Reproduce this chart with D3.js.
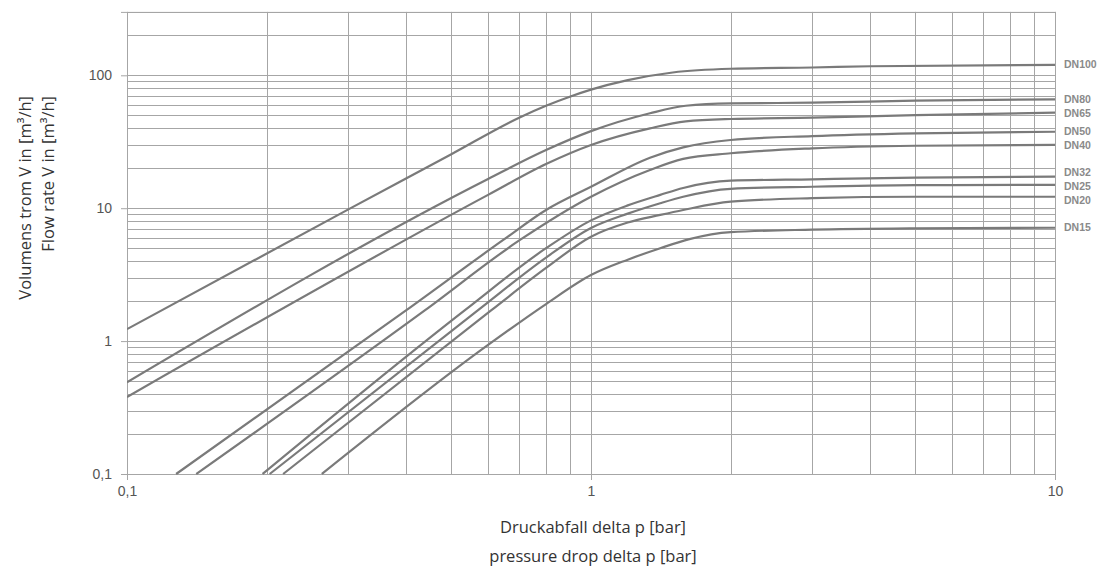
<!DOCTYPE html>
<html>
<head>
<meta charset="utf-8">
<script src="https://cdn.jsdelivr.net/npm/d3@7/dist/d3.min.js"></script>
<style>
  html, body { margin: 0; padding: 0; background: #fff; }
  svg { display: block; }
</style>
</head>
<body>
<svg id="chart" width="1105" height="574"></svg>
<script>
// ---- data (pressure drop [bar], flow rate [m3/h]) ----
const seriesNames = ["DN100", "DN80", "DN65", "DN50", "DN40", "DN32", "DN25", "DN20", "DN15"];
const dn100 = [[0.1,1.23],[0.3,9.8],[0.5,25.5],[0.7,48],[0.8,59],[0.9,69],[1,78],[1.2,92],[1.5,105],[2,112],[3,114.5],[4,117],[10,120]];
const dn80  = [[0.1,0.49],[0.6,16.6],[0.8,27.4],[1,38],[1.34,51.8],[1.6,59],[2,61.5],[3,62.2],[5,64.4],[10,66]];
const dn65  = [[0.1,0.38],[0.6,12.6],[0.8,21.5],[1,29.9],[1.34,39.9],[1.6,45],[2,46.9],[3,48],[5,50.2],[10,52.3]];
const dn50  = [[0.1276,0.1],[0.4,1.71],[0.647,5.77],[0.8,9.7],[1,14.5],[1.34,24],[1.58,28.7],[2,32.6],[3,34.9],[5,36.6],[10,37.6]];
const dn40  = [[0.141,0.1],[0.439,1.71],[0.703,5.77],[1,12.2],[1.34,19.4],[1.58,23.5],[2,25.9],[3,28.2],[5,29.5],[10,30]];
const dn32  = [[0.196,0.1],[0.535,1.71],[0.8,5.0],[1,8.1],[1.2,10.5],[1.41,12.6],[1.58,14.2],[2,16.1],[3,16.5],[5,17],[10,17.3]];
const dn25  = [[0.203,0.1],[0.571,1.71],[0.8,4.25],[1,7.1],[1.2,9.1],[1.41,10.9],[1.58,12.2],[2,14],[3,14.5],[5,14.9],[10,15]];
const dn20  = [[0.217,0.1],[0.61,1.71],[0.8,3.55],[1,6.1],[1.2,7.8],[1.41,8.9],[1.58,9.7],[2,11.2],[3,11.9],[5,12.2],[10,12.2]];
const dn15  = [[0.263,0.1],[0.6,0.935],[0.8,1.9],[1,3.14],[1.2,4.1],[1.41,5.0],[1.63,5.85],[2,6.6],[3,6.9],[5,7.06],[10,7.13]];
const seriesData = [dn100, dn80, dn65, dn50, dn40, dn32, dn25, dn20, dn15];

const xTickValues = [0.1, 1, 10];
const xTickLabels = ["0,1", "1", "10"];
const yTickValues = [0.1, 1, 10, 100];
const yTickLabels = ["0,1", "1", "10", "100"];
const xTitle = ["Druckabfall delta p [bar]", "pressure drop delta p [bar]"];
const yTitle = ["Volumens trom V in [m\u00B3/h]", "Flow rate V in [m\u00B3/h]"];

// ---- layout ----
const svg = d3.select("#chart");
const plot = { left: 127, right: 1055, top: 11.9, bottom: 474 };
const x = d3.scaleLog().domain([0.1, 10]).range([plot.left, plot.right]);
const y = d3.scaleLog().domain([0.1, 300]).range([plot.bottom, plot.top]);

const gridColor = "#a6a6a6";
const curveColor = "#7a7a7a";

// minor/major grid values
const xGrid = [];
[0.1, 1].forEach(d => { for (let k = 1; k <= 9; k++) xGrid.push(+(d * k).toPrecision(3)); });
xGrid.push(10);
const yGrid = [];
[0.1, 1, 10].forEach(d => { for (let k = 1; k <= 9; k++) yGrid.push(+(d * k).toPrecision(3)); });
yGrid.push(100, 200, 300);

const g = svg.append("g");
g.selectAll("line.vg").data(xGrid).join("line")
  .attr("x1", d => Math.round(x(d)) + 0.5).attr("x2", d => Math.round(x(d)) + 0.5)
  .attr("y1", plot.top).attr("y2", plot.bottom)
  .attr("stroke", gridColor).attr("stroke-width", 1);
g.selectAll("line.hg").data(yGrid).join("line")
  .attr("y1", d => Math.round(y(d)) + 0.5).attr("y2", d => Math.round(y(d)) + 0.5)
  .attr("x1", plot.left).attr("x2", plot.right)
  .attr("stroke", gridColor).attr("stroke-width", 1);

// axes (ticks + labels)
const xAxis = d3.axisBottom(x).tickValues(xTickValues).tickSize(6).tickPadding(6)
  .tickFormat((d, i) => xTickLabels[i]);
const xg = svg.append("g").attr("transform", `translate(0,${plot.bottom})`).call(xAxis);
xg.select(".domain").attr("stroke", gridColor);
xg.selectAll(".tick line").attr("stroke", gridColor);
xg.selectAll(".tick text").attr("fill", "#555").attr("font-family", "Liberation Sans, Arial, sans-serif").attr("font-size", 14);

const yAxis = d3.axisLeft(y).tickValues(yTickValues).tickSize(6).tickPadding(9)
  .tickFormat((d, i) => yTickLabels[i]);
const yg = svg.append("g").attr("transform", `translate(${plot.left},0)`).call(yAxis);
yg.select(".domain").attr("stroke", gridColor);
yg.selectAll(".tick line").attr("stroke", gridColor);
yg.selectAll(".tick text").attr("fill", "#555").attr("font-family", "Liberation Sans, Arial, sans-serif").attr("font-size", 14);

// frame
svg.append("rect").attr("x", plot.left + 0.5).attr("y", plot.top + 0.5)
  .attr("width", plot.right - plot.left).attr("height", plot.bottom - plot.top)
  .attr("fill", "none").attr("stroke", gridColor);

// curves
svg.append("clipPath").attr("id", "clip").append("rect")
  .attr("x", plot.left).attr("y", plot.top)
  .attr("width", plot.right - plot.left + 1).attr("height", plot.bottom - plot.top + 1);
const line = d3.line().x(d => x(d[0])).y(d => y(d[1])).curve(d3.curveMonotoneX);
svg.append("g").attr("clip-path", "url(#clip)")
  .selectAll("path").data(seriesData).join("path")
  .attr("d", line).attr("fill", "none")
  .attr("stroke", curveColor).attr("stroke-width", 2.2)
  .attr("stroke-linejoin", "round");

// DN labels with simple de-overlap
const labels = seriesNames.map((n, i) => ({ name: n, y: y(seriesData[i][seriesData[i].length - 1][1]) }));
const minGap = 14;
for (let iter = 0; iter < 50; iter++) {
  for (let i = 1; i < labels.length; i++) {
    const gap = labels[i].y - labels[i - 1].y;
    if (gap < minGap) {
      const shift = (minGap - gap) / 2;
      labels[i - 1].y -= shift;
      labels[i].y += shift;
    }
  }
}
svg.append("g").selectAll("text").data(labels).join("text")
  .attr("x", 1064).attr("y", d => d.y).attr("dy", "0.35em")
  .attr("font-family", "Liberation Sans, Arial, sans-serif")
  .attr("font-weight", "bold").attr("font-size", 10.5)
  .attr("fill", "#8a8a8a").text(d => d.name);

// axis titles
svg.append("g").selectAll("text").data(xTitle).join("text")
  .attr("x", 593).attr("y", (d, i) => 533 + i * 29)
  .attr("text-anchor", "middle")
  .attr("font-family", "Open Sans, sans-serif").attr("font-size", 16.5)
  .attr("fill", "#333").text(d => d);

svg.append("g").selectAll("text").data(yTitle).join("text")
  .attr("transform", (d, i) => `translate(${31 + i * 23},96) rotate(-90)`)
  .attr("text-anchor", "end")
  .attr("font-family", "Open Sans, sans-serif").attr("font-size", 16.5)
  .attr("fill", "#333").text(d => d);
</script>
</body>
</html>
